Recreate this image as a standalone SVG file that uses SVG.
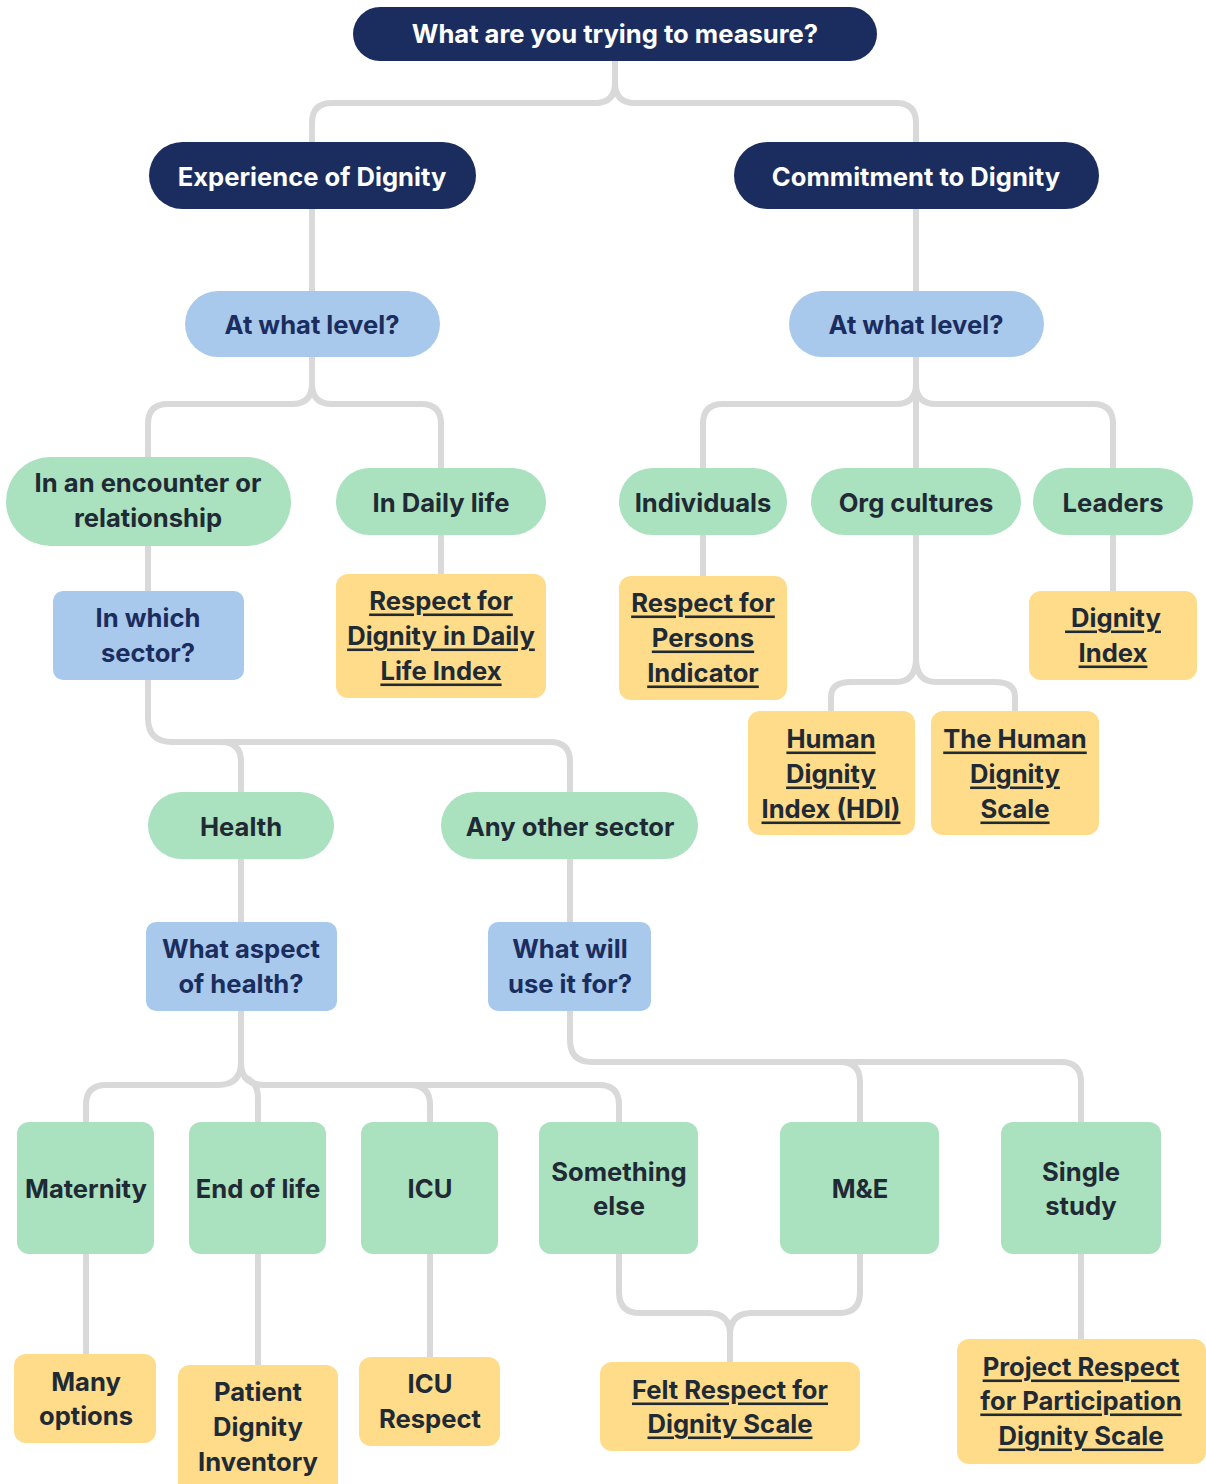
<svg xmlns="http://www.w3.org/2000/svg" width="1206" height="1484" viewBox="0 0 1206 1484">
<style>
text{font-family:Inter,"Liberation Sans",sans-serif;font-weight:700;font-size:25.6px;text-anchor:middle;dominant-baseline:central}
.navy rect{fill:#1b2d5e}.navy text{fill:#ffffff}
.blue rect{fill:#a8c9eb}.blue text{fill:#1b2d5e}
.green rect{fill:#aae1bf}.green text{fill:#1f2a35}
.yellow rect{fill:#fedc8a}.yellow text{fill:#1f2a35}
.u text{text-decoration:underline}
#connectors path{fill:none;stroke:#d9d9d9;stroke-width:6;stroke-linecap:butt}
</style>
<rect width="1206" height="1484" fill="#ffffff"/>
<g id="connectors">
<path d="M615,61 V83 Q615,103 595,103 H332 Q312,103 312,123 V142"/>
<path d="M615,83 Q615,103 635,103 H896 Q916,103 916,123 V142"/>
<path d="M312,209 V291"/>
<path d="M916,209 V291"/>
<path d="M312,357 V384 Q312,404 292,404 H168 Q148,404 148,424 V457"/>
<path d="M312,384 Q312,404 332,404 H421 Q441,404 441,424 V468"/>
<path d="M916,357 V468"/>
<path d="M916,384 Q916,404 896,404 H723 Q703,404 703,424 V468"/>
<path d="M916,384 Q916,404 936,404 H1093 Q1113,404 1113,424 V468"/>
<path d="M148,546 V591"/>
<path d="M441,535 V574"/>
<path d="M703,535 V576"/>
<path d="M1113,535 V591"/>
<path d="M916,535 V658 Q916,682 896,682 H851 Q831,682 831,697 V711"/>
<path d="M916,658 Q916,682 936,682 H995 Q1015,682 1015,697 V711"/>
<path d="M148,680 V718 Q148,742 172,742 H550 Q570,742 570,762 V792"/>
<path d="M221,742 Q241,742 241,762 V792"/>
<path d="M241,859 V922"/>
<path d="M570,859 V922"/>
<path d="M241,1011 V1062 Q241,1085 218,1085 H106 Q86,1085 86,1105 V1122"/>
<path d="M241,1062 Q241,1085 264,1085 H599 Q619,1085 619,1105 V1122"/>
<path d="M243,1076 Q258,1082 258,1098 V1122"/>
<path d="M410,1085 Q430,1085 430,1105 V1122"/>
<path d="M570,1011 V1040 Q570,1062 592,1062 H1061 Q1081,1062 1081,1082 V1122"/>
<path d="M840,1062 Q860,1062 860,1082 V1122"/>
<path d="M619,1254 V1292 Q619,1313 640,1313 H708 Q730,1313 730,1335 V1362"/>
<path d="M860,1254 V1292 Q860,1313 839,1313 H752 Q730,1313 730,1335"/>
<path d="M86,1254 V1354"/>
<path d="M258,1254 V1365"/>
<path d="M430,1254 V1357"/>
<path d="M1081,1254 V1339"/>
</g>
<g id="n-measure" class="navy"><rect x="353" y="7" width="524" height="54" rx="27"/><text x="615" y="33">What are you trying to measure?</text></g>
<g id="n-experience" class="navy"><rect x="149" y="142" width="327" height="67" rx="33.5"/><text x="312" y="176">Experience of Dignity</text></g>
<g id="n-commitment" class="navy"><rect x="734" y="142" width="365" height="67" rx="33.5"/><text x="916" y="176">Commitment to Dignity</text></g>
<g id="n-level-left" class="blue"><rect x="185" y="291" width="255" height="66" rx="33"/><text x="312" y="324">At what level?</text></g>
<g id="n-level-right" class="blue"><rect x="789" y="291" width="255" height="66" rx="33"/><text x="916" y="324">At what level?</text></g>
<g id="n-encounter" class="green"><rect x="6" y="457" width="285" height="89" rx="44.5"/><text x="148" y="482">In an encounter or</text><text x="148" y="517">relationship</text></g>
<g id="n-daily" class="green"><rect x="336" y="468" width="210" height="67" rx="33.5"/><text x="441" y="502">In Daily life</text></g>
<g id="n-individuals" class="green"><rect x="619" y="468" width="168" height="67" rx="33.5"/><text x="703" y="502">Individuals</text></g>
<g id="n-org" class="green"><rect x="811" y="468" width="210" height="67" rx="33.5"/><text x="916" y="502">Org cultures</text></g>
<g id="n-leaders" class="green"><rect x="1033" y="468" width="160" height="67" rx="33.5"/><text x="1113" y="502">Leaders</text></g>
<g id="n-sector" class="blue"><rect x="53" y="591" width="191" height="89" rx="10"/><text x="148" y="617">In which</text><text x="148" y="652">sector?</text></g>
<g id="n-rdli" class="yellow u"><rect x="336" y="574" width="210" height="124" rx="12"/><text x="441" y="600">Respect for</text><text x="441" y="635">Dignity in Daily</text><text x="441" y="670">Life Index</text></g>
<g id="n-rpi" class="yellow u"><rect x="619" y="576" width="168" height="124" rx="12"/><text x="703" y="602">Respect for</text><text x="703" y="637">Persons</text><text x="703" y="672">Indicator</text></g>
<g id="n-dignity-index" class="yellow u"><rect x="1029" y="591" width="168" height="89" rx="12"/><text x="1113" y="617" xml:space="preserve"> Dignity</text><text x="1113" y="652">Index</text></g>
<g id="n-hdi" class="yellow u"><rect x="748" y="711" width="167" height="124" rx="12"/><text x="831" y="738">Human</text><text x="831" y="773">Dignity</text><text x="831" y="808">Index (HDI)</text></g>
<g id="n-hds" class="yellow u"><rect x="931" y="711" width="168" height="124" rx="12"/><text x="1015" y="738">The Human</text><text x="1015" y="773">Dignity</text><text x="1015" y="808">Scale</text></g>
<g id="n-health" class="green"><rect x="148" y="792" width="186" height="67" rx="33.5"/><text x="241" y="826">Health</text></g>
<g id="n-other" class="green"><rect x="441" y="792" width="257" height="67" rx="33.5"/><text x="570" y="826">Any other sector</text></g>
<g id="n-aspect" class="blue"><rect x="146" y="922" width="191" height="89" rx="10"/><text x="241" y="948">What aspect</text><text x="241" y="983">of health?</text></g>
<g id="n-use" class="blue"><rect x="488" y="922" width="163" height="89" rx="10"/><text x="570" y="948">What will</text><text x="570" y="983">use it for?</text></g>
<g id="n-maternity" class="green"><rect x="17" y="1122" width="137" height="132" rx="12"/><text x="86" y="1188">Maternity</text></g>
<g id="n-eol" class="green"><rect x="189" y="1122" width="137" height="132" rx="12"/><text x="258" y="1188">End of life</text></g>
<g id="n-icu" class="green"><rect x="361" y="1122" width="137" height="132" rx="12"/><text x="430" y="1188">ICU</text></g>
<g id="n-something" class="green"><rect x="539" y="1122" width="159" height="132" rx="12"/><text x="619" y="1171">Something</text><text x="619" y="1205">else</text></g>
<g id="n-me" class="green"><rect x="780" y="1122" width="159" height="132" rx="12"/><text x="860" y="1188">M&amp;E</text></g>
<g id="n-single" class="green"><rect x="1001" y="1122" width="160" height="132" rx="12"/><text x="1081" y="1171">Single</text><text x="1081" y="1205">study</text></g>
<g id="n-many" class="yellow"><rect x="14" y="1354" width="142" height="89" rx="12"/><text x="86" y="1381">Many</text><text x="86" y="1415">options</text></g>
<g id="n-pdi" class="yellow"><rect x="178" y="1365" width="160" height="130" rx="12"/><text x="258" y="1391">Patient</text><text x="258" y="1426">Dignity</text><text x="258" y="1461">Inventory</text></g>
<g id="n-icu-respect" class="yellow"><rect x="359" y="1357" width="141" height="89" rx="12"/><text x="430" y="1383">ICU</text><text x="430" y="1418">Respect</text></g>
<g id="n-felt" class="yellow u"><rect x="600" y="1362" width="260" height="89" rx="12"/><text x="730" y="1389">Felt Respect for</text><text x="730" y="1423">Dignity Scale</text></g>
<g id="n-project" class="yellow u"><rect x="957" y="1339" width="249" height="125" rx="12"/><text x="1081" y="1366">Project Respect</text><text x="1081" y="1400">for Participation</text><text x="1081" y="1435">Dignity Scale</text></g>
</svg>
